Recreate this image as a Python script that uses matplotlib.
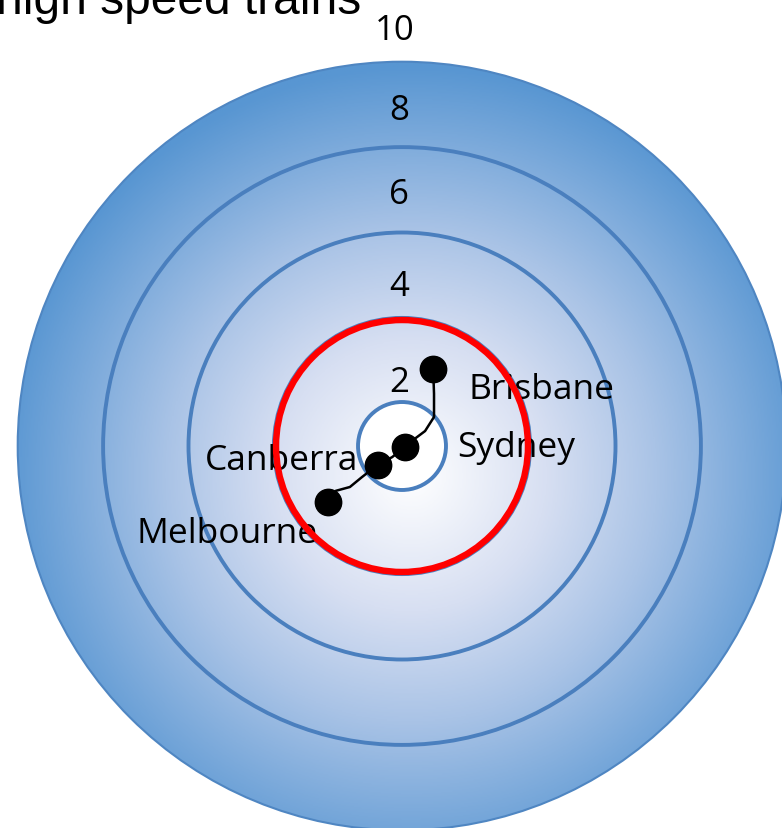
import numpy as np
import matplotlib
matplotlib.use("Agg")
import matplotlib.pyplot as plt
from matplotlib.patches import Circle
from matplotlib.colors import LinearSegmentedColormap

# ── data (units: ring spacing, centre of target at 0,0) ─────────────────────
ring_labels = ["2", "4", "6", "8", "10"]
ring_radius = [1.03, 3.0, 5.0, 7.0, 9.0]
label_x = [-0.07, -0.07, -0.07, -0.07, -0.17]
label_y = [1.29, 3.54, 5.70, 7.65, 9.53]

cities = ["Brisbane", "Sydney", "Canberra", "Melbourne"]
city_x = [0.73, 0.07, -0.57, -1.73]
city_y = [1.80, -0.02, -0.44, -1.31]
city_lx = [1.55, 1.29, -4.61, -6.21]
city_ly = [1.12, -0.23, -0.54, -2.25]

# hand-drawn rail line between the cities
track_x = [0.73, 0.75, 0.75, 0.54, 0.26, 0.07, -0.23, -0.57, -0.94, -1.22, -1.55, -1.69, -1.73]
track_y = [1.80, 1.22, 0.68, 0.35, 0.14, -0.02, -0.26, -0.44, -0.73, -0.96, -1.05, -1.19, -1.31]

hsr_radius = 2.95  # red circle: high speed rail reach

PX = 42.7          # pixels per unit
W, H = 782, 829
CX, CY = 402, 447  # centre in pixels

fig = plt.figure(figsize=(W / 100, H / 100), dpi=100)
ax = fig.add_axes([0, 0, 1, 1])
ax.set_xlim(-CX / PX, (W - CX) / PX)
ax.set_ylim(-(H - CY) / PX, CY / PX)
ax.set_aspect("equal")
ax.axis("off")

# radial gradient clipped to outer circle
R = ring_radius[-1]
g = np.linspace(-R, R, 600)
gx, gy = np.meshgrid(g, g)
d = np.hypot(gx - 0.2, gy + 0.7) / (R + 0.6)
cmap = LinearSegmentedColormap.from_list(
    "tgt", [(0.0, "#ffffff"), (0.33, "#d7dff2"), (0.6, "#a9c3e6"), (1.0, "#5896d2")])
outer = Circle((0, 0), R, facecolor="none", edgecolor="#4f86c2", lw=1.5, zorder=3)
ax.add_patch(outer)
im = ax.imshow(np.clip(d, 0, 1), cmap=cmap, vmin=0, vmax=1, extent=[-R, R, -R, R],
               origin="lower", interpolation="bilinear", zorder=1)
im.set_clip_path(outer)

# inner rings
ax.add_patch(Circle((0, 0), ring_radius[0], facecolor="white", edgecolor="#4a7fbe", lw=2.8, zorder=3))
for r in ring_radius[1:-1]:
    ax.add_patch(Circle((0, 0), r, facecolor="none", edgecolor="#4a7fbe", lw=2.8, zorder=3))
ax.add_patch(Circle((0, 0), hsr_radius, facecolor="none", edgecolor="#ff0000", lw=4.6, zorder=6))

lab_font = "Open Sans"
for t, x, y in zip(ring_labels, label_x, label_y):
    ax.text(x, y, t, ha="center", va="baseline", fontsize=25, family=lab_font, color="black", zorder=5)

ax.plot(track_x, track_y, color="black", lw=1.8, zorder=7, solid_capstyle="round")
ax.plot(city_x, city_y, "o", color="black", ms=19, zorder=8)
for t, x, y in zip(cities, city_lx, city_ly):
    ax.text(x, y, t, ha="left", va="baseline", fontsize=25.5, family=lab_font, color="black", zorder=5)

fig.text(361 / W, 1 - 14.5 / H, "high speed trains", ha="right", va="baseline",
         fontsize=34.5, family="Liberation Sans", color="black")

fig.savefig("out.png", dpi=100)
